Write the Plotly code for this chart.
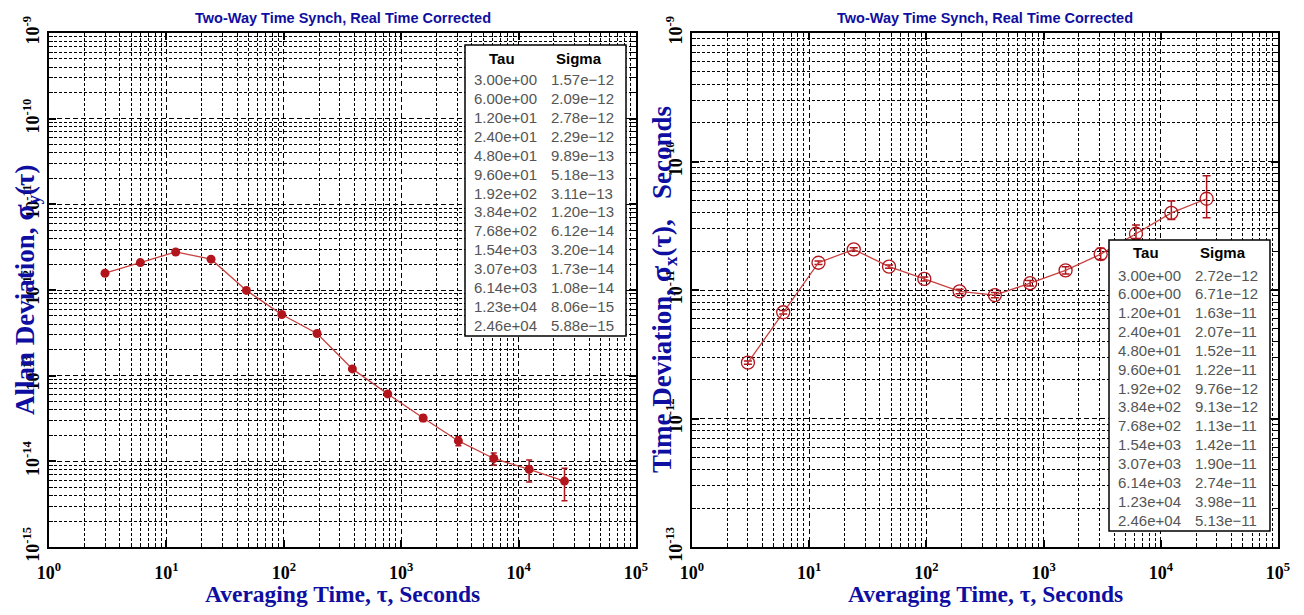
import plotly.graph_objects as go

# ---------------- data ----------------
tau = [3.00e+00, 6.00e+00, 1.20e+01, 2.40e+01, 4.80e+01, 9.60e+01, 1.92e+02,
       3.84e+02, 7.68e+02, 1.54e+03, 3.07e+03, 6.14e+03, 1.23e+04, 2.46e+04]
adev = [1.57e-12, 2.09e-12, 2.78e-12, 2.29e-12, 9.89e-13, 5.18e-13, 3.11e-13,
        1.20e-13, 6.12e-14, 3.20e-14, 1.73e-14, 1.08e-14, 8.06e-15, 5.88e-15]
tdev = [2.72e-12, 6.71e-12, 1.63e-11, 2.07e-11, 1.52e-11, 1.22e-11, 9.76e-12,
        9.13e-12, 1.13e-11, 1.42e-11, 1.90e-11, 2.74e-11, 3.98e-11, 5.13e-11]
# error bar sizes, as fractions of sigma
adev_err = [0.01, 0.015, 0.02, 0.025, 0.03, 0.035, 0.045, 0.05, 0.065, 0.09,
            0.12, 0.16, 0.29, 0.41]
tdev_err_up = [0.03, 0.03, 0.03, 0.03, 0.03, 0.035, 0.04, 0.045, 0.05, 0.07,
               0.11, 0.17, 0.24, 0.51]
tdev_err_dn = [0.03, 0.03, 0.03, 0.03, 0.03, 0.035, 0.04, 0.045, 0.05, 0.06,
               0.09, 0.08, 0.11, 0.29]

x_exps = [0, 1, 2, 3, 4, 5]
y_exps_left = [-15, -14, -13, -12, -11, -10, -9]
y_exps_right = [-13, -12, -11, -10, -9]

title_text = "Two-Way Time Synch, Real Time Corrected"
xtitle_text = "Averaging Time, τ, Seconds"
ytitle_left = "Allan Deviation, <span style='font-size:30px'>σ</span><sub>y</sub>(τ)"
ytitle_right = ("Time Deviation, <span style='font-size:30px'>σ</span><sub>x</sub>(τ),"
                "\u00a0\u00a0 Seconds")
table_headers = ["Tau", "Sigma"]

# ---------------- styling ----------------
# the page body keeps an 8px margin, so the figure is sized to fill the rest
PAGE_W, PAGE_H, BODY = 1304, 615, 8
W, H = PAGE_W - 2 * BODY, PAGE_H - 2 * BODY
LINE = "#c8403f"
MARK = "#b2161c"
BLUE = "#0e0ea0"
SERIF = "Liberation Serif, Times New Roman, serif"
SANS = "Liberation Sans, Arial, sans-serif"


def fx(p):
    return (p - BODY) / W


def fy(p):
    return 1 - (p - BODY) / H


def fmt(v):
    return f"{v:.2e}".replace("-", "\u2212")


def minor_vals(lo, hi):
    return [m * 10.0 ** e for e in range(lo, hi) for m in range(2, 10)]


def sup_labels(exps):
    return [f"10<sup>{e}</sup>" for e in exps]


PLOT_TOP, PLOT_BOT = 33, 547
LEFT_X = (49, 636)
RIGHT_X = (692, 1278)


def make_axis(domain, rng, tickvals, ticktext, minor, angle, is_y):
    ax = dict(
        type="log", range=rng, domain=domain, automargin=False,
        tickmode="array", tickvals=tickvals, ticktext=ticktext,
        tickangle=angle,
        showgrid=True, gridcolor="black", gridwidth=1, griddash="5px,3px",
        minor=dict(tickmode="array", tickvals=minor, showgrid=True,
                   gridcolor="black", gridwidth=1, griddash="3px,2px",
                   ticks="inside", ticklen=4, tickcolor="black", tickwidth=1),
        ticks="inside", ticklen=7, tickwidth=1.5, tickcolor="black",
        showline=True, linewidth=2, linecolor="black", mirror="allticks",
        zeroline=False,
    )
    if is_y:
        ax["tickfont"] = dict(family=SERIF, size=18, color="black", weight="bold")
        ax["ticklabelstandoff"] = 1
    else:
        ax["tickfont"] = dict(family=SERIF, size=18, color="black", weight="bold")
        ax["ticklabelstandoff"] = 8
    return ax


fig = go.Figure()

fig.add_trace(go.Scatter(
    x=tau, y=adev, mode="lines+markers", xaxis="x", yaxis="y",
    line=dict(color=LINE, width=1.3),
    marker=dict(symbol="circle", size=9, color=MARK),
    error_y=dict(type="data", symmetric=True,
                 array=[s * f for s, f in zip(adev, adev_err)],
                 color=MARK, thickness=1.5, width=3),
    showlegend=False, hoverinfo="x+y",
))
fig.add_trace(go.Scatter(
    x=tau, y=tdev, mode="lines+markers", xaxis="x2", yaxis="y2",
    line=dict(color=LINE, width=1.3),
    marker=dict(symbol="circle-open", size=13, color=MARK,
                line=dict(width=1.3, color=MARK)),
    error_y=dict(type="data", symmetric=False,
                 array=[s * f for s, f in zip(tdev, tdev_err_up)],
                 arrayminus=[s * f for s, f in zip(tdev, tdev_err_dn)],
                 color=MARK, thickness=1.5, width=4),
    showlegend=False, hoverinfo="x+y",
))

ydom = [fy(PLOT_BOT), fy(PLOT_TOP)]
xvals = [10.0 ** e for e in x_exps]

layout = dict(
    template="none",
    width=W, height=H, margin=dict(l=0, r=0, t=0, b=0, autoexpand=False),
    paper_bgcolor="white", plot_bgcolor="white", showlegend=False,
    xaxis=make_axis([fx(LEFT_X[0]), fx(LEFT_X[1])], [0, 5], xvals,
                    sup_labels(x_exps), minor_vals(0, 5), 0, False),
    yaxis=make_axis(ydom, [-15, -9], [10.0 ** e for e in y_exps_left],
                    sup_labels(y_exps_left), minor_vals(-15, -9), -90, True),
    xaxis2=make_axis([fx(RIGHT_X[0]), fx(RIGHT_X[1])], [0, 5], xvals,
                     sup_labels(x_exps), minor_vals(0, 5), 0, False),
    yaxis2=make_axis(ydom, [-13, -9], [10.0 ** e for e in y_exps_right],
                     sup_labels(y_exps_right), minor_vals(-13, -9), -90, True),
)
layout["xaxis"]["anchor"] = "y"
layout["yaxis"]["anchor"] = "x"
layout["xaxis2"]["anchor"] = "y2"
layout["yaxis2"]["anchor"] = "x2"
fig.update_layout(**layout)

annotations = []
shapes = []


def add_title_block(x0, x1, ytitle, ytitle_x):
    cx = (x0 + x1) / 2
    annotations.append(dict(
        text=title_text, x=fx(cx), y=fy(18), xref="paper", yref="paper",
        showarrow=False, xanchor="center", yanchor="middle",
        font=dict(family=SANS, size=14.5, color=BLUE, weight="bold")))
    annotations.append(dict(
        text=xtitle_text, x=fx(cx), y=fy(594), xref="paper", yref="paper",
        showarrow=False, xanchor="center", yanchor="middle",
        font=dict(family=SERIF, size=23.5, color=BLUE, weight="bold")))
    annotations.append(dict(
        text=ytitle, x=fx(ytitle_x), y=fy((PLOT_TOP + PLOT_BOT) / 2),
        xref="paper", yref="paper", textangle=-90,
        showarrow=False, xanchor="center", yanchor="middle",
        font=dict(family=SERIF, size=27, color=BLUE, weight="bold")))


def add_table(bx, by, sig):
    bw, bh = 161, 291
    shapes.append(dict(type="rect", xref="paper", yref="paper",
                       x0=fx(bx), x1=fx(bx + bw), y0=fy(by + bh), y1=fy(by),
                       fillcolor="white", line=dict(color="black", width=1.5),
                       layer="above"))
    for txt, cx in zip(table_headers, [bx + 37, bx + 114]):
        annotations.append(dict(
            text=txt, x=fx(cx), y=fy(by + 13), xref="paper", yref="paper",
            showarrow=False, xanchor="center", yanchor="middle",
            font=dict(family=SANS, size=15, color="black", weight="bold")))
    for i, (t, s) in enumerate(zip(tau, sig)):
        yy = by + 35 + i * 18.85
        for txt, xx in ((fmt(t), bx + 7), (fmt(s), bx + 84)):
            annotations.append(dict(
                text=txt, x=fx(xx), y=fy(yy), xref="paper", yref="paper",
                showarrow=False, xanchor="left", yanchor="middle",
                font=dict(family=SANS, size=15, color="#555555")))


add_title_block(*LEFT_X, ytitle_left, 25)
add_title_block(*RIGHT_X, ytitle_right, 662)
add_table(465, 45, adev)
add_table(1109, 240, tdev)

fig.update_layout(annotations=annotations, shapes=shapes)
fig.write_html("out.html")
